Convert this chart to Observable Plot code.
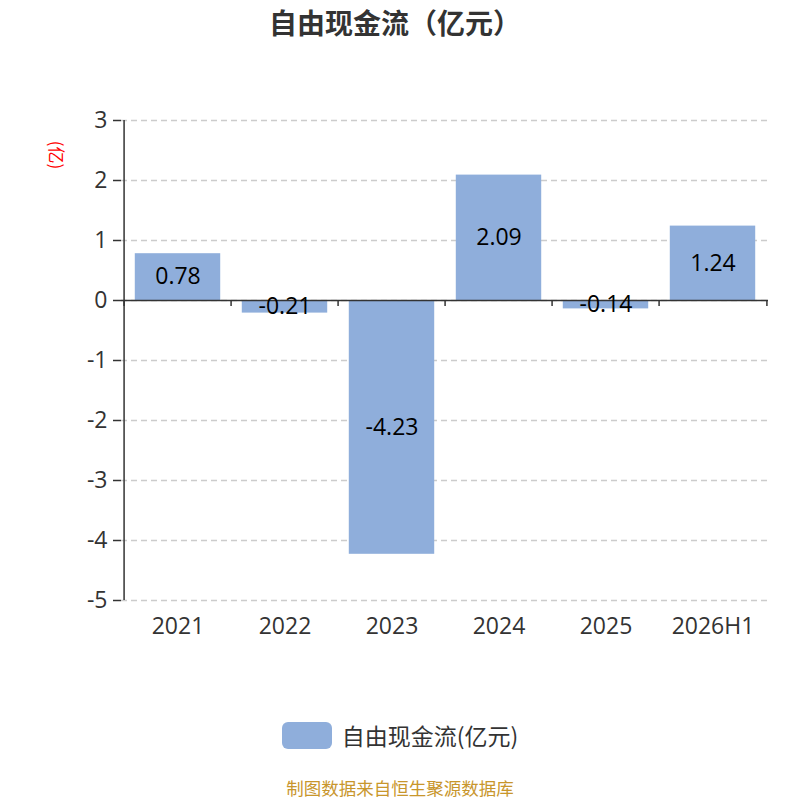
<!DOCTYPE html>
<html><head><meta charset="utf-8">
<script src="https://cdn.jsdelivr.net/npm/d3@7"></script>
<script src="https://cdn.jsdelivr.net/npm/@observablehq/plot@0.6"></script>
<style>
body{margin:0;background:#fff;font-family:"Open Sans","Noto Sans CJK SC",sans-serif;}
#wrap{position:relative;width:800px;height:800px;}
#title{position:absolute;top:0;left:0;width:790px;height:44px;line-height:44px;text-align:center;font-size:28px;font-weight:bold;color:#333;font-family:"Noto Sans CJK SC",sans-serif;}
#chart{position:absolute;top:44px;left:0;}
#legend{position:absolute;top:720px;left:0;width:800px;height:30px;display:flex;justify-content:center;align-items:center;font-size:23px;color:#333;font-family:"Noto Sans CJK SC",sans-serif;}
#legend .sw{width:50px;height:27px;border-radius:6px;background:#8FAEDB;margin-right:10px;}
#footer{position:absolute;top:778px;left:0;width:800px;height:20px;line-height:20px;text-align:center;font-size:17.5px;color:#C8962C;font-family:"Noto Sans CJK SC",sans-serif;}
#ylab{position:absolute;left:57px;top:155px;color:#f00;font-size:17px;white-space:nowrap;transform:translate(-50%,-50%) rotate(90deg);font-family:"Noto Sans CJK SC",sans-serif;line-height:1;}
</style></head>
<body><div id="wrap">
<div id="title">自由现金流（亿元）</div>
<div id="chart"></div>
<div id="ylab">(亿)</div>
<div id="legend"><div class="sw"></div><span>自由现金流(亿元)</span></div>
<div id="footer">制图数据来自恒生聚源数据库</div>
</div>
<script>
const categories = ["2021","2022","2023","2024","2025","2026H1"];
const values = [0.78, -0.21, -4.23, 2.09, -0.14, 1.24];
const yTicks = [-5,-4,-3,-2,-1,0,1,2,3];

const data = categories.map((c,i)=>({year:c, value:values[i]}));
const W = 800, mL = 121, mR = 32;
const step = (W - mL - mR) / categories.length;
const inset = step * 0.1;
const barColor = "#8FAEDB";

const plot = Plot.plot({
  width: W, height: 640,
  marginLeft: mL, marginRight: mR, marginTop: 76, marginBottom: 84,
  style: {fontFamily: '"Open Sans","Noto Sans CJK SC",sans-serif', background: "#fff"},
  x: {domain: categories, padding: 0, label: null},
  y: {domain: [-5, 3], label: null},
  marks: [
    Plot.gridY(yTicks, {stroke: "#ccc", strokeOpacity: 1, strokeDasharray: "6,4", strokeWidth: 1.3}),
    Plot.barY(data, {x: "year", y: "value", fill: barColor, insetLeft: inset, insetRight: inset}),
    Plot.axisY(yTicks, {tickSize: 8, tickPadding: 6, fontSize: 23, stroke: "#333", fill: "#333", strokeWidth: 1.5, tickFormat: d => String(d)}),
    Plot.ruleX([0], {x: () => categories[0], dx: -step/2, y1: -5, y2: 3, stroke: "#333", strokeWidth: 1.5}),
    Plot.ruleY([0], {stroke: "#333", strokeWidth: 1.5}),
    Plot.ruleX(categories, {x: d => d, dx: -step/2, y1: 0, y2: -0.1, stroke: "#333", strokeWidth: 1.5}),
    Plot.ruleX([categories[categories.length-1]], {x: d => d, dx: step/2, y1: 0, y2: -0.1, stroke: "#333", strokeWidth: 1.5}),
    Plot.axisX({tickSize: 0, tickPadding: 17, fontSize: 23, fill: "#333"}),
    Plot.text(data, {x: "year", y: d => d.value / 2, text: d => d.value.toFixed(2), fontSize: 23, fill: "#000"})
  ]
});
document.getElementById("chart").appendChild(plot);
</script>
</body></html>
